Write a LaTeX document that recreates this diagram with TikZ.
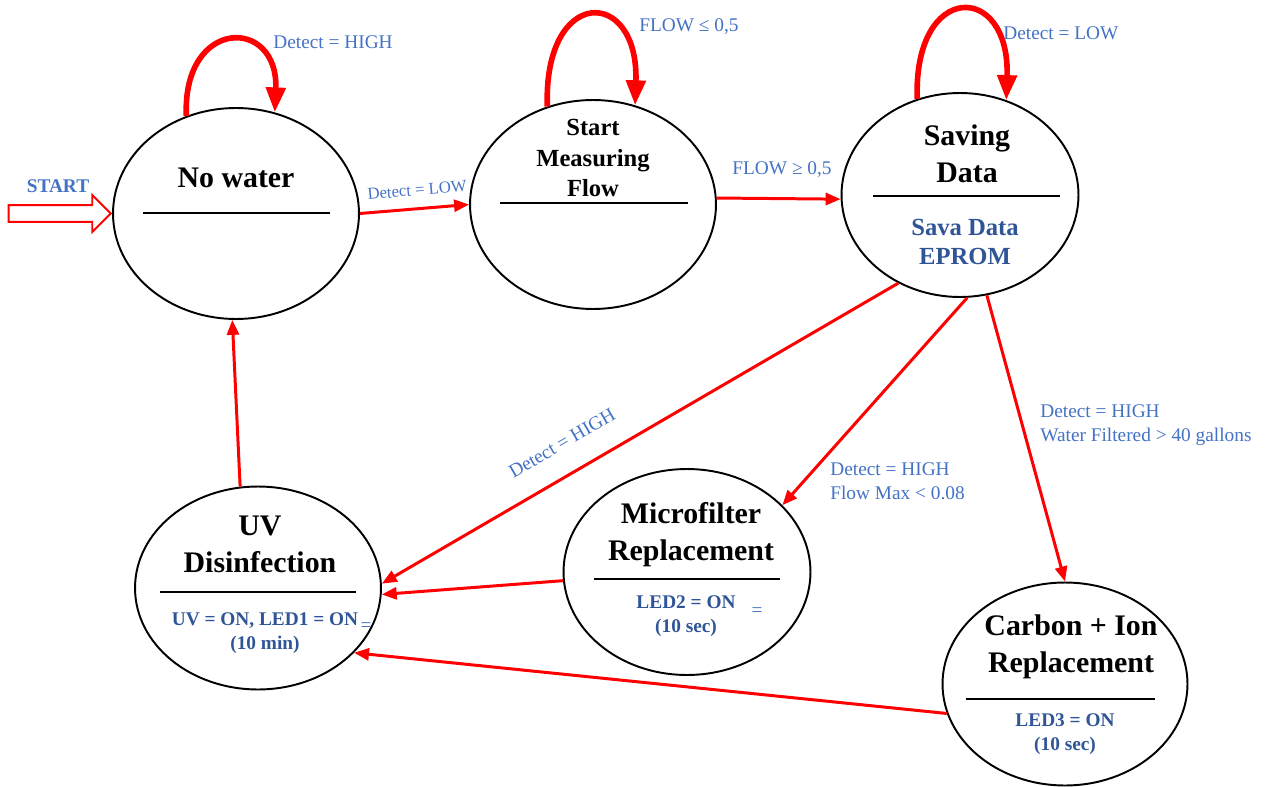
\documentclass[tikz,border=0pt]{standalone}
\usepackage{fontspec}
\setmainfont{Liberation Serif}
\usetikzlibrary{arrows.meta,shapes.geometric,shapes.arrows}
\definecolor{lblblue}{RGB}{68,114,196}
\definecolor{txtblue}{RGB}{47,85,151}
\tikzset{
  state/.style={ellipse, draw, line width=1.1pt, inner sep=0pt},
  edge/.style={draw=red, line width=1.7pt, -{Triangle[length=0.3cm,width=0.24cm]}},
  loopedge/.style={draw=red, line width=3.2pt, -{Triangle[length=0.5cm,width=0.38cm]}},
  lbl/.style={text=lblblue, font=\fontsize{11}{13.7}\selectfont, inner sep=0pt},
  title/.style={font=\bfseries\fontsize{17}{21}\selectfont, align=center, inner sep=0pt},
  info/.style={text=txtblue, font=\bfseries\fontsize{11}{14}\selectfont, align=center, inner sep=0pt},
  divider/.style={line width=1.1pt},
}
\begin{document}
\begin{tikzpicture}[x=0.02cm, y=-0.02cm]
    \useasboundingbox (0,0) rectangle (1267,787);

    % States
    \node (nowater) [state, minimum width=4.92cm, minimum height=4.22cm] at (236,213.5) {};
    \node (smf) [state, minimum width=4.92cm, minimum height=4.18cm] at (593,204.5) {};
    \node (saving) [state, minimum width=4.74cm, minimum height=4.08cm] at (960,195) {};
    \node (uv) [state, minimum width=4.92cm, minimum height=4.06cm] at (258,588) {};
    \node (micro) [state, minimum width=4.94cm, minimum height=4.12cm] at (687,572) {};
    \node (carbon) [state, minimum width=4.9cm, minimum height=4.06cm] at (1065,684) {};

    % Texts inside the states
    \node (nwtitle) [title] at (236,178) {No water};
    \draw[divider] (143,213) -- (330,213);
    \node (smftitle) [title, font=\bfseries\fontsize{14}{17.6}\selectfont] at (593,158) {Start\\Measuring\\Flow};
    \draw[divider] (500,203) -- (688,203);
    \node (savtitle) [title] at (967,154) {Saving\\Data};
    \draw[divider] (873,196) -- (1060,196);
    \node (savinfo) [info, font=\bfseries\fontsize{14}{17}\selectfont] at (965,242) {Sava Data\\EPROM};
    \node (uvtitle) [title] at (260,544) {UV\\Disinfection};
    \draw[divider] (160,592) -- (356,592);
    \node (uvinfo) [info] at (265,633) {UV = ON, LED1 = ON\\(10 min)};
    \node (uvmark) [lbl] at (366,627) {=};
    \node (mictitle) [title] at (691,535) {Microfilter\\Replacement};
    \draw[divider] (594,579) -- (780,579);
    \node (micinfo) [info] at (686,616) {LED2 = ON\\(10 sec)};
    \node (micmark) [lbl] at (757,612) {=};
    \node (cartitle) [title] at (1071,647) {Carbon + Ion\\Replacement};
    \draw[divider] (966,699) -- (1155,699);
    \node (carinfo) [info] at (1065,734) {LED3 = ON\\(10 sec)};

    % Start
    \node (startarrow) [single arrow, draw=red, line width=1.1pt, inner xsep=0pt, inner ysep=0.15cm,
        single arrow head extend=0.2cm, minimum height=2.04cm, anchor=tip] at (nowater.west) {};
    \node (lblstart) [lbl, font=\bfseries\fontsize{11}{13}\selectfont] at (58,186) {START};

    % Self loops
    \draw[loopedge] (nowater.117) .. controls +(-4,-99) and +(4,-96) .. (nowater.69);
    \draw[loopedge] (smf.115) .. controls +(-4,-121) and +(4,-119) .. (smf.67);
    \draw[loopedge] (saving.114) .. controls +(-4,-118) and +(4,-119) .. (saving.64);

    % Transitions
    \draw[edge] (nowater.east) -- (smf.west);
    \draw[edge] (smf.3) -- (saving.182);
    \draw[edge] (saving.235) -- (uv.2);
    \draw[edge] (saving.274) -- (micro.35);
    \draw[edge] (saving.285) -- (carbon.north);
    \draw[edge] (micro.184) -- (uv.357);
    \draw[edge] (carbon.194) -- (uv.326);
    \draw[edge] (uv.100) -- (nowater.268);

    % Labels
    \node (lblnwloop) [lbl, anchor=west] at (273,42) {Detect = HIGH};
    \node (lblnwsmf) [lbl, font=\fontsize{9.5}{11}\selectfont, rotate=5] at (417,190) {Detect = LOW};
    \node (lblsmfloop) [lbl, anchor=west] at (639,27) {FLOW ≤ 0,5};
    \node (lblsmfsav) [lbl] at (782,170) {FLOW ≥ 0,5};
    \node (lblsavloop) [lbl, anchor=west] at (1003,33) {Detect = LOW};
    \node (lblsavuv) [lbl, rotate=30] at (562,443) {Detect = HIGH};
    \node (lblsavmic) [lbl, anchor=west, align=left] at (830,481) {Detect = HIGH\\Flow Max < 0.08};
    \node (lblsavcar) [lbl, anchor=west, align=left] at (1040,425) {Detect = HIGH\\Water Filtered > 40 gallons};

\end{tikzpicture}
\end{document}
